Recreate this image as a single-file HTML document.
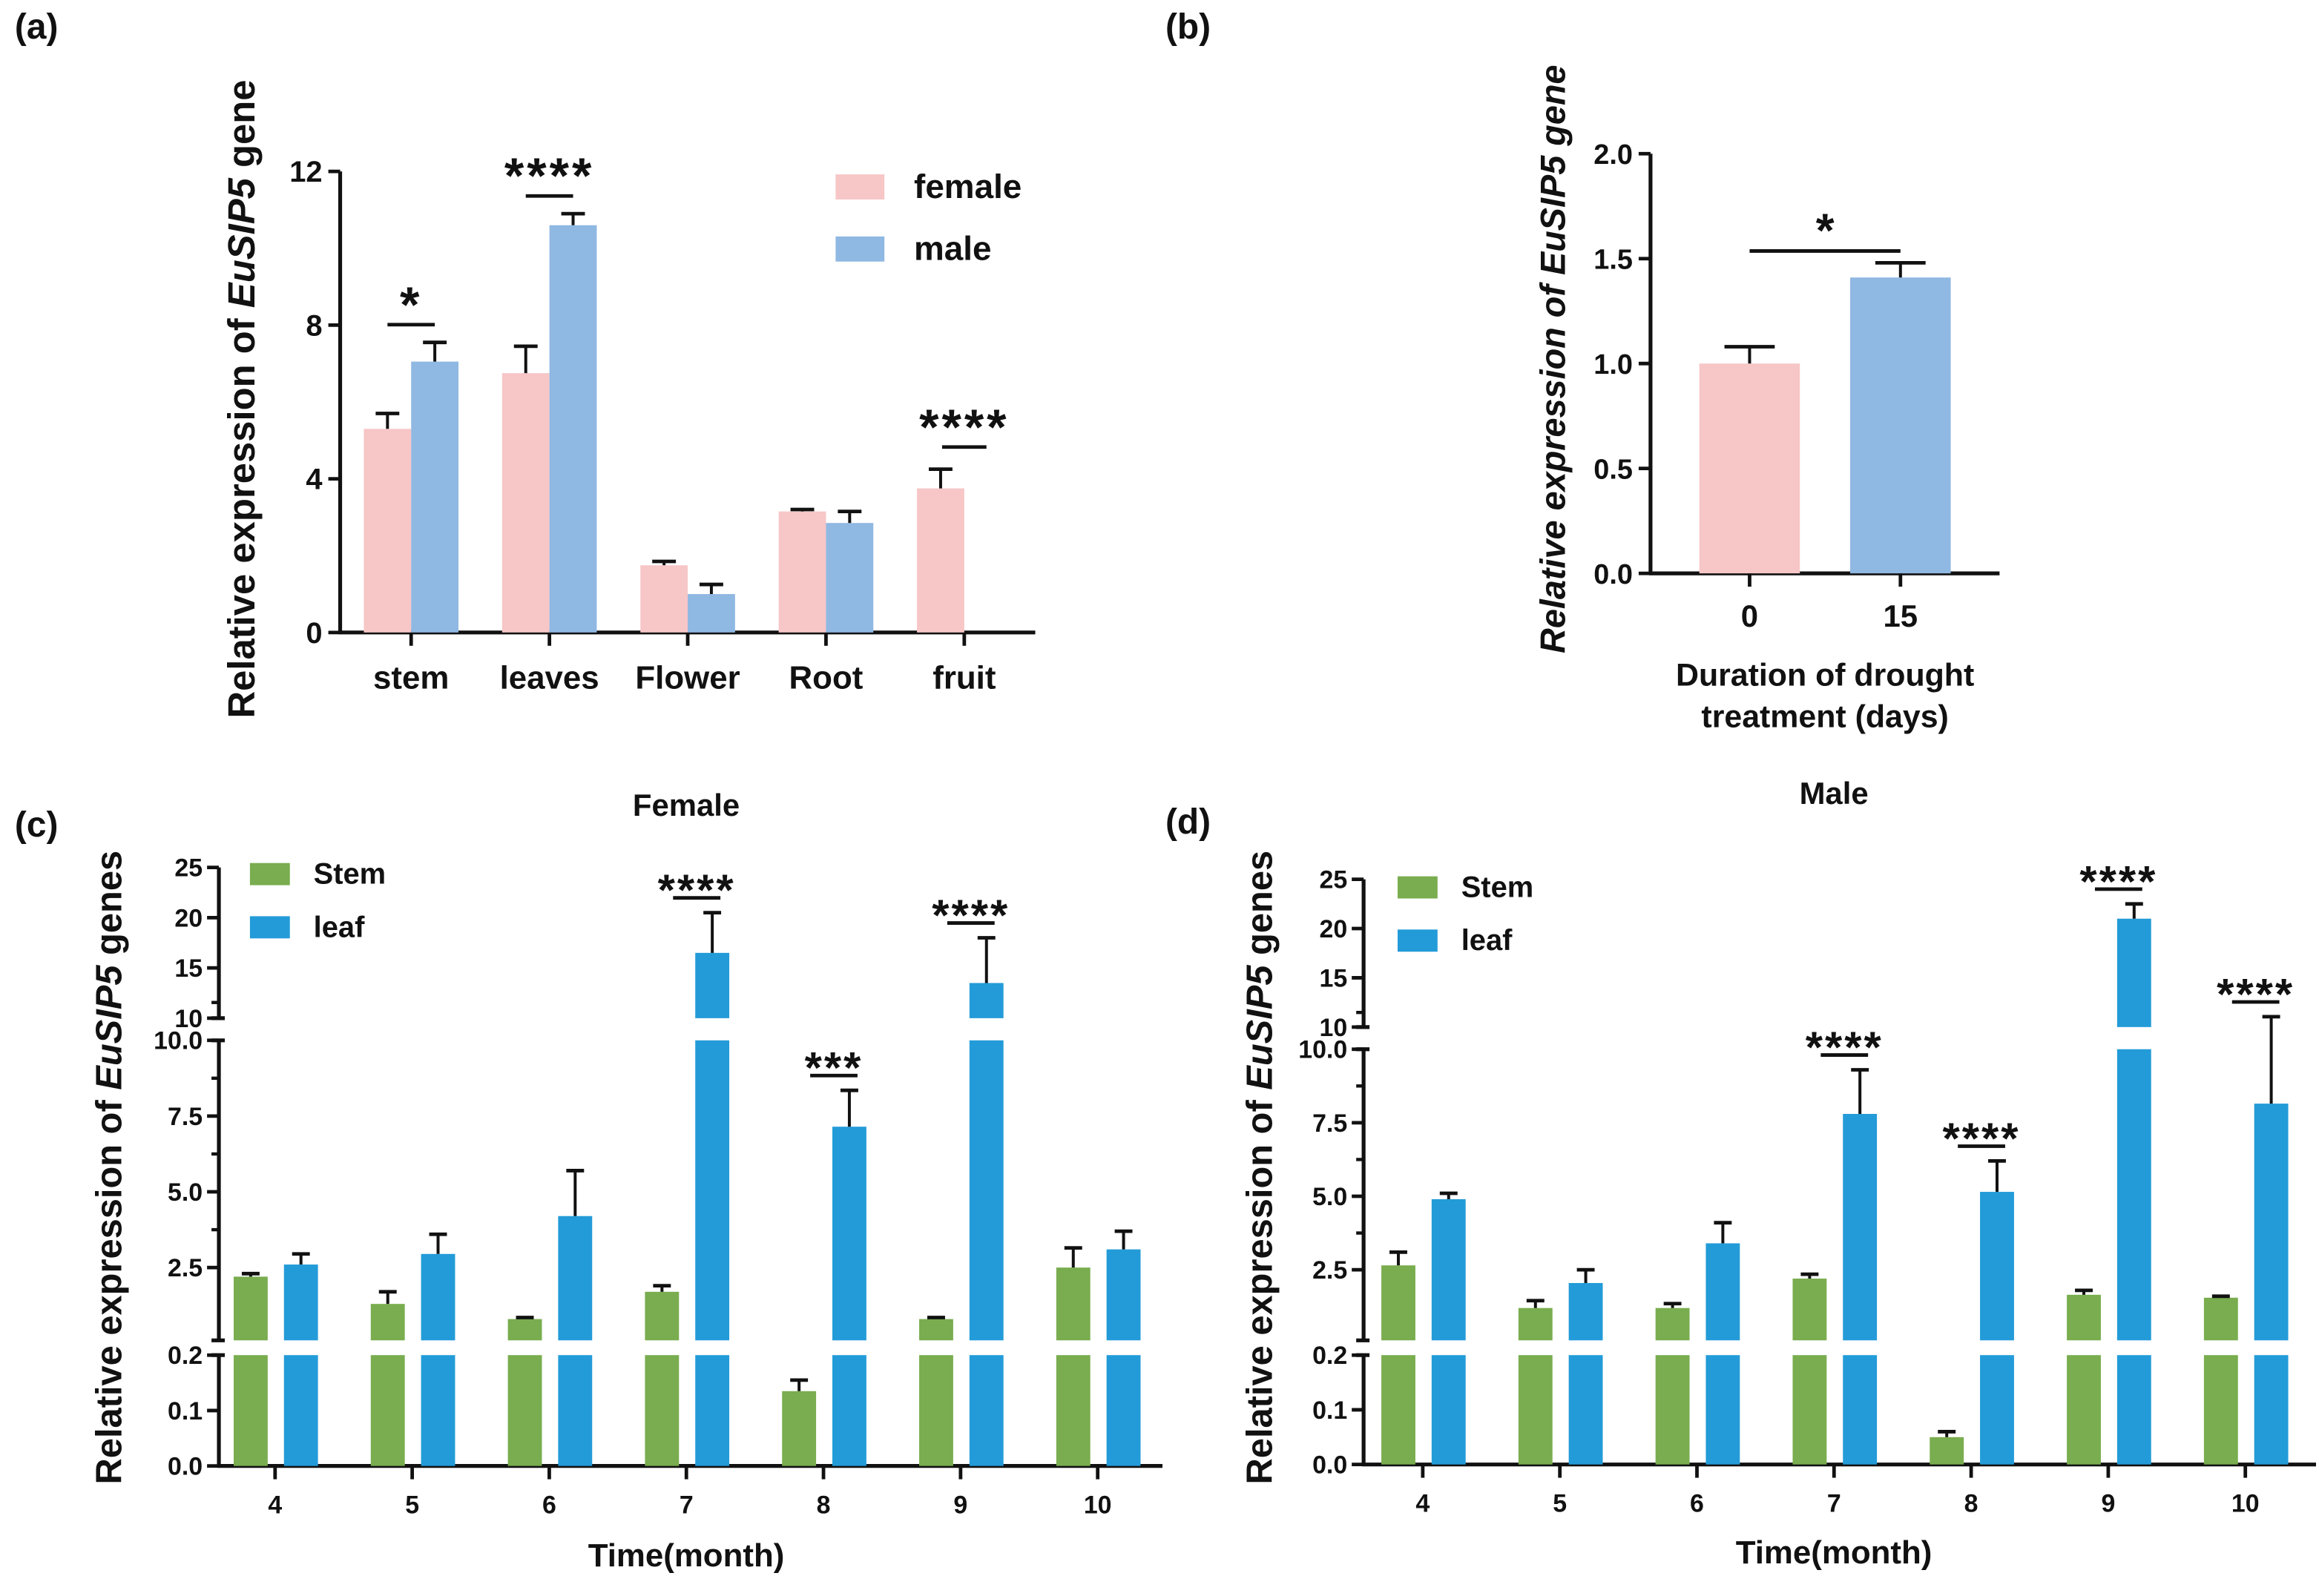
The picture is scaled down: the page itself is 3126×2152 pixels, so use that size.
<!DOCTYPE html>
<html><head><meta charset="utf-8">
<style>
html,body{margin:0;padding:0;background:#fff;}
svg{display:block;}
text{font-family:"Liberation Sans",Arial,sans-serif;font-weight:bold;fill:#111;}
</style></head>
<body>
<svg id="fig" width="3126" height="2152" viewBox="0 0 1568 1080" preserveAspectRatio="none" xmlns="http://www.w3.org/2000/svg">
<text x="10" y="26" font-size="24">(a)</text>
<text x="788" y="26" font-size="24">(b)</text>
<text x="10" y="566" font-size="24">(c)</text>
<text x="788" y="564" font-size="24">(d)</text>
<text x="464" y="552" font-size="21" text-anchor="middle">Female</text>
<text x="1240" y="544" font-size="21" text-anchor="middle">Male</text>
<text transform="translate(172,270) rotate(-90)" font-size="25.5" text-anchor="middle">Relative expression of <tspan font-style="italic">EuSIP5</tspan> gene</text>
<text transform="translate(1058,243) rotate(-90)" font-size="23.5" font-style="italic" text-anchor="middle">Relative expression of EuSIP5 gene</text>
<text transform="translate(82,790) rotate(-90)" font-size="24.5" text-anchor="middle">Relative expression of <tspan font-style="italic">EuSIP5</tspan> genes</text>
<text transform="translate(860,790) rotate(-90)" font-size="24.5" text-anchor="middle">Relative expression of <tspan font-style="italic">EuSIP5</tspan> genes</text>
<text x="1234" y="464" font-size="21.5" text-anchor="middle">Duration of drought</text>
<text x="1234" y="492" font-size="21.5" text-anchor="middle">treatment (days)</text>
<text x="464" y="1060" font-size="22" text-anchor="middle">Time(month)</text>
<text x="1240" y="1058" font-size="22" text-anchor="middle">Time(month)</text>
</svg>
<script>
// ---- Panel (a) data ----
const aCategories = ['stem','leaves','Flower','Root','fruit'];
const aFemale = [5.3, 6.75, 1.75, 3.15, 3.75];
const aFemaleErr = [0.4, 0.7, 0.1, 0.05, 0.5];
const aMale = [7.05, 10.6, 1.0, 2.85, 0];
const aMaleErr = [0.5, 0.3, 0.25, 0.3, 0];
const aTicks = [0, 4, 8, 12];
const aSig = ['*','****','','','****'];
// ---- Panel (b) data ----
const bCategories = ['0','15'];
const bValues = [1.0, 1.41];
const bErr = [0.08, 0.07];
const bTicks = ['0.0','0.5','1.0','1.5','2.0'];
// ---- Panel (c) data ----
const months = ['4','5','6','7','8','9','10'];
const cStem = [2.2, 1.3, 0.8, 1.7, 0.135, 0.8, 2.5];
const cStemErr = [0.1, 0.4, 0.05, 0.2, 0.02, 0.05, 0.65];
const cLeaf = [2.6, 2.95, 4.2, 16.5, 7.15, 13.5, 3.1];
const cLeafErr = [0.35, 0.65, 1.5, 4.0, 1.2, 4.5, 0.6];
const cSig = ['','','','****','***','****',''];
// ---- Panel (d) data ----
const dStem = [2.65, 1.2, 1.2, 2.2, 0.05, 1.65, 1.55];
const dStemErr = [0.45, 0.25, 0.15, 0.15, 0.01, 0.15, 0.05];
const dLeaf = [4.9, 2.05, 3.4, 7.8, 5.15, 21, 8.15];
const dLeafErr = [0.2, 0.45, 0.7, 1.5, 1.05, 1.5, 2.9];
const dSig = ['','','','****','****','****','****'];
const topTicks = [10, 15, 20, 25];
const midTicks = ['2.5','5.0','7.5','10.0'];
const lowTicks = ['0.0','0.1','0.2'];

const NS = 'http://www.w3.org/2000/svg';
const svg = document.getElementById('fig');
function mk(tag, attrs, parent) {
  const e = document.createElementNS(NS, tag);
  for (const k in attrs) e.setAttribute(k, attrs[k]);
  (parent || svg).appendChild(e);
  return e;
}
function line(x1,y1,x2,y2,w){ return mk('line',{x1,y1,x2,y2,stroke:'#111','stroke-width':w||2.2}); }
function txt(x,y,s,size,anchor){ const t=mk('text',{x,y,'font-size':size,'text-anchor':anchor||'middle'}); t.textContent=s; return t; }
function errBar(x,y1,y2,cap){ const g=mk('g',{}); mk('line',{x1:x,y1:y1,x2:x,y2:y2,stroke:'#111','stroke-width':2},g); mk('line',{x1:x-cap,y1:y2,x2:x+cap,y2:y2,stroke:'#111','stroke-width':2.4},g); return g; }

// ===== Panel (a) =====
(function(){
  const x0=230, xEnd=700, y0=428, y12=116;
  const ya = v => y0 + (y12-y0)*v/12;
  const cx = i => 278 + i*93.5;
  let el = line(x0,y12,x0,y0+1,2.6);
   
  el = line(x0-1,y0,xEnd,y0,2.6);
   
  aTicks.forEach(t=>{
    const tk=line(x0-8,ya(t),x0,ya(t),2.4);
     
    const lb=txt(x0-12,ya(t)+7,String(t),20,'end'); lb.setAttribute('font-weight','normal');
     
  });
  aCategories.forEach((c,i)=>{
    const x=cx(i);
    const tk=line(x,y0,x,y0+9,2.4);
     
    const lb=txt(x,y0+38,c,22);
     
    if(aFemale[i]>0){
      const b=mk('rect',{x:x-32,y:ya(aFemale[i]),width:32,height:y0-ya(aFemale[i]),fill:'#f7c6c7'});
       
      const e=errBar(x-16,ya(aFemale[i]),ya(aFemale[i]+aFemaleErr[i]),8);
       
    }
    if(aMale[i]>0){
      const b=mk('rect',{x:x,y:ya(aMale[i]),width:32,height:y0-ya(aMale[i]),fill:'#8fb8e2'});
       
      const e=errBar(x+16,ya(aMale[i]),ya(aMale[i]+aMaleErr[i]),8);
       
    }
    if(aSig[i]){
      const top=Math.max(aFemale[i]+aFemaleErr[i],aMale[i]+aMaleErr[i]);
      const ly=ya(top)-12;
      const sl=line(x-16,ly,x+16,ly,2.4);
      if(i===4){ sl.setAttribute('x1',x-15); sl.setAttribute('x2',x+15); sl.setAttribute('y1',ly-3); sl.setAttribute('y2',ly-3); }
       
      const st=txt(x,(i===4?ly-3:ly)-2,aSig[i],34);
      st.setAttribute('letter-spacing','2');
       
    }
  });
  let s=mk('rect',{x:565,y:118,width:33,height:17,fill:'#f7c6c7'});
   
  s=txt(618,134,'female',23,'start');  
  s=mk('rect',{x:565,y:160,width:33,height:17,fill:'#8fb8e2'});
   
  s=txt(618,176,'male',23,'start');  
})();

// ===== Panel (b) =====
(function(){
  const x0=1116, xEnd=1352, y0=388, y2=104;
  const yb = v => y0 + (y2-y0)*v/2;
  const cx = i => 1183 + i*102;
  const cols=['#f7c6c7','#8fb8e2'];
  let el=line(x0,y2,x0,y0+1,2.6);  
  el=line(x0-1,y0,xEnd,y0,2.6);  
  bTicks.forEach(t=>{
    const v=parseFloat(t);
    const tk=line(x0-8,yb(v),x0,yb(v),2.4);  
    const lb=txt(x0-12,yb(v)+7,t,19,'end');  
  });
  bCategories.forEach((c,i)=>{
    const x=cx(i);
    const b=mk('rect',{x:x-34,y:yb(bValues[i]),width:68,height:y0-yb(bValues[i]),fill:cols[i]});
     
    const e=errBar(x,yb(bValues[i]),yb(bValues[i]+bErr[i]),17);
     
    const tk=line(x,y0,x,y0+9,2.4);  
    const lb=txt(x,y0+36,c,21);  
  });
  const top=Math.max(bValues[0]+bErr[0],bValues[1]+bErr[1]);
  const ly=yb(top)-8;
  let s=line(cx(0),ly,cx(1),ly,2.4);  
  s=txt((cx(0)+cx(1))/2,ly-3,'*',32);  
})();

// ===== Panels (c),(d) broken axis =====
function broken(p){
  const {pre,x0,xEnd,yLow0,yLow02,yMid0,yMid10,yTop10,yTop25,c0,step,stem,stemErr,leaf,leafErr,sig} = p;
  const midClip = yMid0-2;
  const yv = v => {
    if(v<=0.2) return yLow0 + (yLow02-yLow0)*v/0.2;
    if(v<=10) return yMid0 + (yMid10-yMid0)*v/10;
    return yTop10 + (yTop25-yTop10)*(v-10)/15;
  };
  const cx = i => c0 + i*step;
  let el=line(x0,yLow02,x0,yLow0+1,2.6);  
  el=line(x0,yMid10,x0,midClip,2.6);  
  el=line(x0,yTop25,x0,yTop10,2.6);  
  [yLow02,midClip,yMid10,yTop10].forEach(a=>{ const b=line(x0-5,a,x0+4,a,2.6);   });
  el=line(x0-1,yLow0,xEnd,yLow0,2.6);  
  lowTicks.forEach(t=>{ const v=parseFloat(t); const y=yLow0+(yLow02-yLow0)*v/0.2;
    const tk=line(x0-8,y,x0,y,2.4);  
    const lb=txt(x0-11,y+6,t,17,'end');   });
  midTicks.forEach(t=>{ const v=parseFloat(t); const y=yMid0+(yMid10-yMid0)*v/10;
    const tk=line(x0-8,y,x0,y,2.4);  
    const mn=line(x0-5,y+(yMid10-yMid0)*0.125,x0,y+(yMid10-yMid0)*0.125,2.2);  
    const lb=txt(x0-11,y+6,t,17,'end');   });
  topTicks.forEach(t=>{ const y=yTop10+(yTop25-yTop10)*(t-10)/15;
    const tk=line(x0-8,y,x0,y,2.4);  
    const lb=txt(x0-11,y+6,String(t),17,'end');   });
  function bar(xl,v,col,name){
    const g=mk('g',{});
     
    mk('rect',{x:xl,y:yv(Math.min(v,0.2)),width:23,height:yLow0-yv(Math.min(v,0.2)),fill:col},g);
    if(v>0.2){ const yt=yv(Math.min(v,10)); mk('rect',{x:xl,y:yt,width:23,height:midClip-yt,fill:col},g); }
    if(v>10){ const yt=yv(v); mk('rect',{x:xl,y:yt,width:23,height:yTop10-yt,fill:col},g); }
  }
  months.forEach((m,i)=>{
    const x=cx(i);
    bar(x-28,stem[i],'#79ad4f',pre+'-bar-stem-month-'+m);
    bar(x+6,leaf[i],'#239bd8',pre+'-bar-leaf-month-'+m);
    let e=errBar(x-16.5,yv(stem[i]),yv(stem[i]+stemErr[i]),6);  
    e=errBar(x+17.5,yv(leaf[i]),yv(leaf[i]+leafErr[i]),6);  
    const tk=line(x,yLow0,x,yLow0+9,2.4);  
    const lb=txt(x,yLow0+32,m,17);  
    if(sig[i]){
      const ly=yv(leaf[i]+leafErr[i])-10;
      const sl=line(x-9,ly,x+23,ly,2.4);  
      const st=txt(x+7,ly+5,sig[i],30); st.setAttribute('letter-spacing','1.5');
       
    }
  });
  const lx=p.legX, ly=p.legY;
  let s=mk('rect',{x:lx,y:ly,width:27,height:15,fill:'#79ad4f'});  
  s=txt(lx+43,ly+14,'Stem',20,'start');  
  s=mk('rect',{x:lx,y:ly+36,width:27,height:15,fill:'#239bd8'});  
  s=txt(lx+43,ly+50,'leaf',20,'start');  
}
broken({pre:'c',x0:148,xEnd:786,yLow0:992,yLow02:917,yMid0:909,yMid10:704,yTop10:689,yTop25:587,c0:186,step:92.7,
  stem:cStem,stemErr:cStemErr,leaf:cLeaf,leafErr:cLeafErr,sig:cSig,legX:169,legY:584});
broken({pre:'d',x0:922,xEnd:1566,yLow0:991,yLow02:917,yMid0:909,yMid10:710,yTop10:695,yTop25:595,c0:962,step:92.7,
  stem:dStem,stemErr:dStemErr,leaf:dLeaf,leafErr:dLeafErr,sig:dSig,legX:945,legY:593});
</script>
</body></html>
